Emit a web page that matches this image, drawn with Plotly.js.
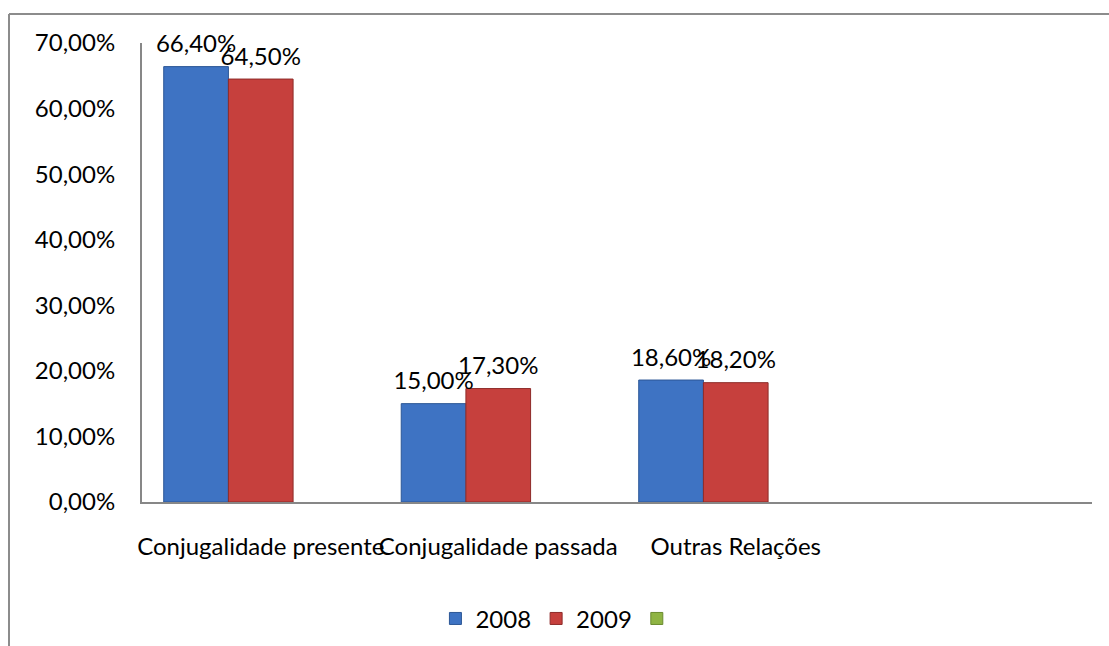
<!DOCTYPE html>
<html>
<head>
<meta charset="utf-8">
<script src="https://cdn.plot.ly/plotly-3.0.1.min.js"></script>
<style>html,body{margin:0;padding:0;background:#fff;}#chart{width:1109px;height:646px;}</style>
</head>
<body>
<div id="chart"></div>
<script>
const categories = ["Conjugalidade presente", "Conjugalidade passada", "Outras Relações", " "];
const values2008 = [0.664, 0.150, 0.186, null];
const values2009 = [0.645, 0.173, 0.182, null];
const values3 = [null, null, null, null];
const seriesNames = ["2008", "2009", ""];
const yTicks = [0, 0.1, 0.2, 0.3, 0.4, 0.5, 0.6, 0.7];

const FONT = "Lato, 'Open Sans', sans-serif";
const FS = 24;
const colors = ["#3E73C3", "#C6403D", "#8FB443"];
const lineColors = ["#2C5796", "#8E2B29", "#6A8A2F"];
const allValues = [values2008, values2009, values3];

const barTraces = allValues.map((vals, i) => ({
  type: "bar",
  name: seriesNames[i],
  x: categories,
  y: vals,
  marker: {color: colors[i], line: {color: lineColors[i], width: 1}},
  hoverinfo: "skip"
}));

const labelTraces = allValues.map((vals, i) => ({
  type: "scatter",
  mode: "markers+text",
  showlegend: false,
  x: categories,
  y: vals,
  marker: {size: 12, opacity: 0, color: colors[i]},
  texttemplate: "%{y:.2%}",
  textposition: "top center",
  textfont: {family: FONT, size: FS, color: "#000"},
  cliponaxis: false,
  hoverinfo: "skip"
}));

const layout = {
  width: 1109, height: 646,
  margin: {l: 142, r: 17, t: 43, b: 144},
  paper_bgcolor: "#fff", plot_bgcolor: "#fff",
  separators: ",.",
  font: {family: FONT, size: FS, color: "#000"},
  barmode: "group",
  bargap: 0.183,
  bargroupgap: 0,
  scattermode: "group",
  scattergap: 0.183,
  showlegend: true,
  xaxis: {
    type: "category",
    showline: true, linecolor: "#878787", linewidth: 2,
    showgrid: false, zeroline: false, ticks: "",
    tickangle: 0,
    ticklabelstandoff: 22,
    tickfont: {family: FONT, size: FS, color: "#000"},
    automargin: false
  },
  yaxis: {
    range: [0, 0.7],
    tickvals: yTicks,
    tickformat: ".2%",
    showline: true, linecolor: "#878787", linewidth: 2,
    showgrid: false, zeroline: false, ticks: "",
    ticklabelstandoff: 20,
    tickfont: {family: FONT, size: FS, color: "#000"},
    automargin: false
  },
  legend: {
    orientation: "h",
    xref: "container", yref: "container",
    x: 0.504, xanchor: "center",
    y: 0.042, yanchor: "middle",
    font: {family: FONT, size: FS, color: "#000"},
    itemwidth: 30,
    traceorder: "normal"
  },
  shapes: [
    {type: "line", xref: "paper", yref: "paper", x0: -0.14, x1: 1.1, y0: 1.063, y1: 1.063, line: {color: "#8C8C8C", width: 2}},
    {type: "line", xref: "paper", yref: "paper", x0: -0.14, x1: -0.14, y0: 1.063, y1: -0.4, line: {color: "#8C8C8C", width: 2}}
  ]
};

Plotly.newPlot("chart", barTraces.concat(labelTraces), layout, {displayModeBar: false, staticPlot: true});
</script>
</body>
</html>
